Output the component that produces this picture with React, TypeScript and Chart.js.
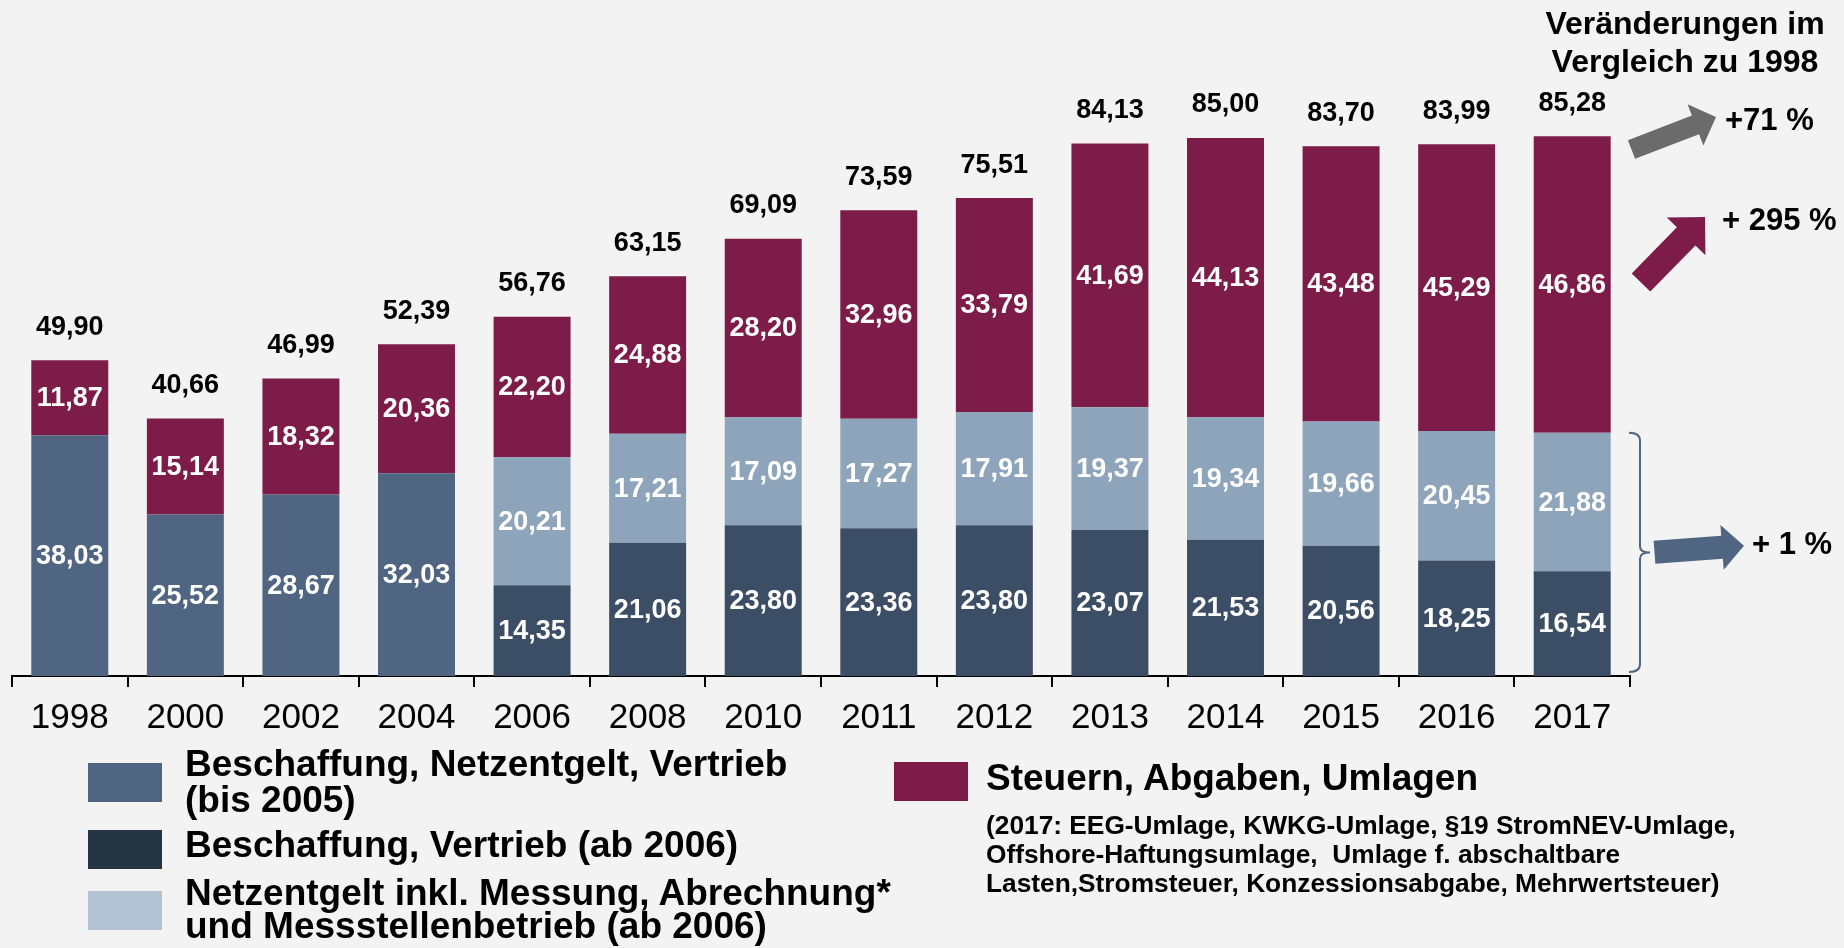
import React, { useEffect, useRef } from 'react';
import { Chart, registerables } from 'chart.js';

Chart.register(...registerables);

// ---------- Data ----------
const years = ['1998', '2000', '2002', '2004', '2006', '2008', '2010', '2011', '2012', '2013', '2014', '2015', '2016', '2017'];
const procurementNetworkSales = [38.03, 25.52, 28.67, 32.03, null, null, null, null, null, null, null, null, null, null];
const procurementSales = [null, null, null, null, 14.35, 21.06, 23.8, 23.36, 23.8, 23.07, 21.53, 20.56, 18.25, 16.54];
const networkCharges = [null, null, null, null, 20.21, 17.21, 17.09, 17.27, 17.91, 19.37, 19.34, 19.66, 20.45, 21.88];
const taxesLevies = [11.87, 15.14, 18.32, 20.36, 22.2, 24.88, 28.2, 32.96, 33.79, 41.69, 44.13, 43.48, 45.29, 46.86];
const totals = [49.9, 40.66, 46.99, 52.39, 56.76, 63.15, 69.09, 73.59, 75.51, 84.13, 85.0, 83.7, 83.99, 85.28];
const changeTitle = ['Veränderungen im', 'Vergleich zu 1998'];
const changeLabels = ['+71 %', '+ 295 %', '+ 1 %'];

const FONT = '"Liberation Sans", Arial, Helvetica, sans-serif';
const C_OLD = '#4f6582';
const C_PROC = '#3c4e65';
const C_NET = '#8da4bb';
const C_TAX = '#7d1c48';

const fmt = (v: number) => v.toFixed(2).replace('.', ',');

function drawArrow(ctx: CanvasRenderingContext2D, x1: number, y1: number, x2: number, y2: number, sw: number, hw: number, hl: number, color: string) {
  const dx = x2 - x1, dy = y2 - y1;
  const L = Math.hypot(dx, dy);
  const ux = dx / L, uy = dy / L;
  const nx = -uy, ny = ux;
  const bx = x2 - ux * hl, by = y2 - uy * hl;
  ctx.save();
  ctx.fillStyle = color;
  ctx.beginPath();
  ctx.moveTo(x1 + nx * sw / 2, y1 + ny * sw / 2);
  ctx.lineTo(bx + nx * sw / 2, by + ny * sw / 2);
  ctx.lineTo(bx + nx * hw / 2, by + ny * hw / 2);
  ctx.lineTo(x2, y2);
  ctx.lineTo(bx - nx * hw / 2, by - ny * hw / 2);
  ctx.lineTo(bx - nx * sw / 2, by - ny * sw / 2);
  ctx.lineTo(x1 - nx * sw / 2, y1 - ny * sw / 2);
  ctx.closePath();
  ctx.fill();
  ctx.restore();
}

const labelPlugin = {
  id: 'valueLabels',
  afterDatasetsDraw(chart: any) {
    const ctx: CanvasRenderingContext2D = chart.ctx;
    ctx.save();
    ctx.textAlign = 'center';
    ctx.textBaseline = 'middle';
    ctx.font = `bold 27px ${FONT}`;
    ctx.fillStyle = '#ffffff';
    chart.data.datasets.forEach((ds: any, i: number) => {
      const meta = chart.getDatasetMeta(i);
      meta.data.forEach((bar: any, j: number) => {
        const v = ds.data[j];
        if (v == null) return;
        const p = bar.getProps(['x', 'y', 'base'], true);
        ctx.fillText(fmt(v), p.x, (p.y + p.base) / 2 + 1);
      });
    });
    ctx.fillStyle = '#000000';
    const topMeta = chart.getDatasetMeta(3);
    totals.forEach((t, j) => {
      const bar = topMeta.data[j];
      const p = bar.getProps(['x', 'y'], true);
      ctx.fillText(fmt(t), p.x, p.y - 33);
    });
    ctx.restore();
  },
  afterDraw(chart: any) {
    const ctx: CanvasRenderingContext2D = chart.ctx;
    const area = chart.chartArea;
    ctx.save();
    // title
    ctx.fillStyle = '#000';
    ctx.font = `bold 32px ${FONT}`;
    ctx.textAlign = 'center';
    ctx.textBaseline = 'middle';
    ctx.fillText(changeTitle[0], 1685, 25);
    ctx.fillText(changeTitle[1], 1685, 63);

    // arrows
    drawArrow(ctx, 1631.5, 149.5, 1716, 117, 20, 44, 22, '#6b6b6b');
    drawArrow(ctx, 1641, 282.5, 1705, 217, 26, 54, 27, C_TAX);
    drawArrow(ctx, 1654.5, 552.3, 1744, 545.7, 23, 45, 22, C_OLD);

    // change labels
    ctx.textAlign = 'left';
    ctx.font = `bold 31px ${FONT}`;
    ctx.fillText(changeLabels[0], 1725, 121);
    ctx.fillText(changeLabels[1], 1722, 221);
    ctx.fillText(changeLabels[2], 1752, 545);

    // bracket around 2017 net price components
    const last = years.length - 1;
    const netBar = chart.getDatasetMeta(2).data[last];
    const top = netBar.getProps(['y'], true).y;
    const bottom = area.bottom - 4;
    const mid = (top + bottom) / 2;
    const x0 = area.right - 1;
    const x1 = x0 + 11;
    const x2 = x0 + 21;
    ctx.strokeStyle = C_OLD;
    ctx.lineWidth = 2;
    ctx.beginPath();
    ctx.moveTo(x0, top);
    ctx.quadraticCurveTo(x1, top, x1, top + 8);
    ctx.lineTo(x1, mid - 6);
    ctx.quadraticCurveTo(x1, mid, x2, mid);
    ctx.quadraticCurveTo(x1, mid, x1, mid + 6);
    ctx.lineTo(x1, bottom - 8);
    ctx.quadraticCurveTo(x1, bottom, x0, bottom);
    ctx.stroke();
    ctx.restore();
  },
};

function LegendBox({ left, top, color }: { left: number; top: number; color: string }) {
  return <div style={{ position: 'absolute', left, top, width: 74, height: 39, background: color }} />;
}

export default function App() {
  const ref = useRef<HTMLCanvasElement | null>(null);

  useEffect(() => {
    if (!ref.current) return;
    const chart = new Chart(ref.current, {
      type: 'bar',
      data: {
        labels: years,
        datasets: [
          { label: 'Beschaffung, Netzentgelt, Vertrieb (bis 2005)', data: procurementNetworkSales, backgroundColor: C_OLD },
          { label: 'Beschaffung, Vertrieb (ab 2006)', data: procurementSales, backgroundColor: C_PROC },
          { label: 'Netzentgelt inkl. Messung, Abrechnung* und Messstellenbetrieb (ab 2006)', data: networkCharges, backgroundColor: C_NET },
          { label: 'Steuern, Abgaben, Umlagen', data: taxesLevies, backgroundColor: C_TAX },
        ],
      },
      options: {
        animation: false,
        responsive: false,
        devicePixelRatio: 1,
        layout: { padding: { left: 12, right: 214, top: 43, bottom: 212 } },
        datasets: { bar: { categoryPercentage: 1, barPercentage: 0.666 } },
        scales: {
          x: {
            stacked: true,
            grid: { offset: true, drawOnChartArea: false, drawTicks: true, tickLength: 11, color: '#000', lineWidth: 2 },
            border: { display: true, color: '#000', width: 2 },
            ticks: { color: '#000', font: { family: FONT, size: 35 }, padding: 10, maxRotation: 0, autoSkip: false },
            afterFit: (s: any) => { s.height = 60; },
          },
          y: { stacked: true, display: false, min: 0, max: 100 },
        },
        plugins: { legend: { display: false }, tooltip: { enabled: false } },
      },
      plugins: [labelPlugin],
    } as any);
    return () => chart.destroy();
  }, []);

  const txt: React.CSSProperties = { position: 'absolute', fontFamily: FONT, fontWeight: 'bold', color: '#000', whiteSpace: 'nowrap' };

  return (
    <div style={{ position: 'fixed', left: 0, top: 0, width: 1844, height: 948, background: '#f3f3f3', overflow: 'hidden' }}>
      <canvas ref={ref} width={1844} height={948} style={{ position: 'absolute', left: 0, top: 0, width: 1844, height: 948 }} />
      <LegendBox left={88} top={763} color="#4f6582" />
      <LegendBox left={88} top={830} color="#263544" />
      <LegendBox left={88} top={891} color="#b4c3d4" />
      <LegendBox left={894} top={762} color={C_TAX} />
      <div style={{ ...txt, left: 185, top: 746, fontSize: 37, lineHeight: '36px' }}>
        Beschaffung, Netzentgelt, Vertrieb<br />(bis 2005)
      </div>
      <div style={{ ...txt, left: 185, top: 827, fontSize: 37, lineHeight: '36px' }}>
        Beschaffung, Vertrieb (ab 2006)
      </div>
      <div style={{ ...txt, left: 185, top: 876, fontSize: 37, lineHeight: '33px' }}>
        Netzentgelt inkl. Messung, Abrechnung*<br />und Messstellenbetrieb (ab 2006)
      </div>
      <div style={{ ...txt, left: 986, top: 760, fontSize: 37, lineHeight: '36px' }}>
        Steuern, Abgaben, Umlagen
      </div>
      <div style={{ ...txt, left: 986, top: 811, fontSize: 26.3, lineHeight: '29px' }}>
        (2017: EEG-Umlage, KWKG-Umlage, §19 StromNEV-Umlage,<br />
        Offshore-Haftungsumlage,&nbsp; Umlage f. abschaltbare<br />
        Lasten,Stromsteuer, Konzessionsabgabe, Mehrwertsteuer)
      </div>
    </div>
  );
}
